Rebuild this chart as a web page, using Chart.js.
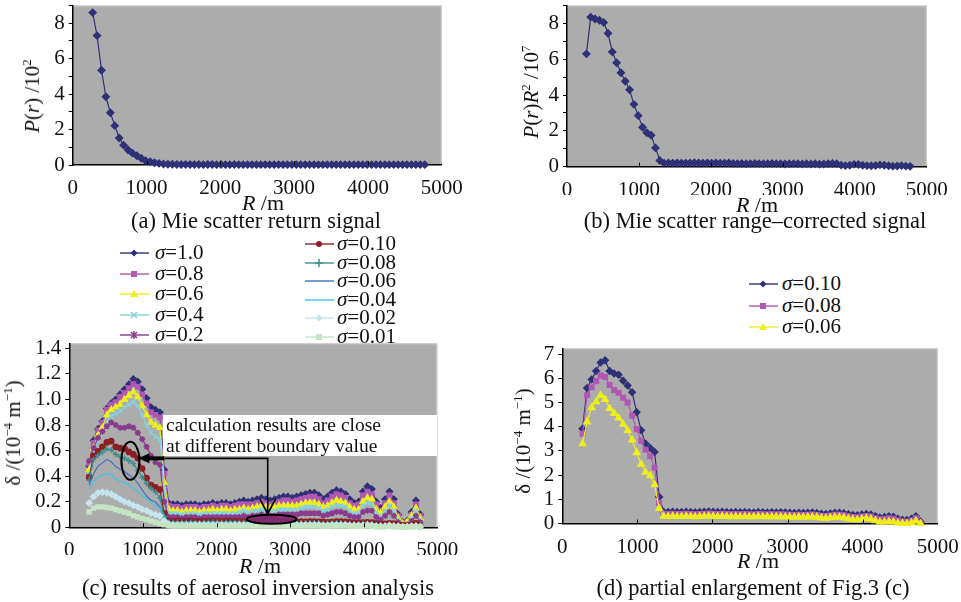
<!DOCTYPE html>
<html><head><meta charset="utf-8">
<script src="https://cdn.jsdelivr.net/npm/chart.js@4.4.1/dist/chart.umd.min.js"></script>
<style>
body{margin:0;width:961px;height:602px;background:#fff;position:relative;overflow:hidden;font-family:"Liberation Serif","Times New Roman",serif;color:#111;}
canvas{position:absolute;}
.t{position:absolute;font-size:22.5px;white-space:nowrap;line-height:24px;}
.ax{font-size:22px;}
.c{transform:translate(-50%,-50%);}
.yt{font-size:21px;transform:translate(-50%,-50%) rotate(-90deg);}
sup{font-size:13px;line-height:0;vertical-align:8px;}
.lg{position:absolute;height:20px;font-size:21px;white-space:nowrap;}
.box{position:absolute;background:#fff;font-size:19.5px;line-height:20.5px;padding:0 0 0 3px;box-sizing:border-box;white-space:nowrap;}
</style></head><body>
<canvas id="ca" width="470" height="195" style="left:0;top:0"></canvas>
<canvas id="cb" width="470" height="195" style="left:480px;top:0"></canvas>
<canvas id="cc" width="470" height="225" style="left:0;top:330px"></canvas>
<canvas id="cd" width="481" height="225" style="left:480px;top:330px"></canvas>

<div class="t yt" style="left:32px;top:96px"><i>P</i>(<i>r</i>) /10<sup>2</sup></div>
<div class="t yt" style="left:531px;top:92px"><i>P</i>(<i>r</i>)<i>R</i><sup>2</sup> /10<sup>7</sup></div>
<div class="t yt" style="left:13px;top:433px">δ /(10<sup>−4</sup> m<sup>−1</sup>)</div>
<div class="t yt" style="left:523px;top:441px">δ /(10<sup>−4</sup> m<sup>−1</sup>)</div>

<div class="t c ax" style="left:263px;top:203px"><i>R</i> /m</div>
<div class="t c ax" style="left:757px;top:205px"><i>R</i> /m</div>
<div class="t c ax" style="left:260px;top:566px"><i>R</i> /m</div>
<div class="t c ax" style="left:758px;top:561px"><i>R</i> /m</div>

<div class="t c" style="left:256px;top:221px">(a) Mie scatter return signal</div>
<div class="t c" style="left:755px;top:221px">(b) Mie scatter range–corrected signal</div>
<div class="t c" style="left:258px;top:588px">(c) results of aerosol inversion analysis</div>
<div class="t c" style="left:753px;top:588px">(d) partial enlargement of Fig.3 (c)</div>

<div class="box" style="left:163px;top:415px;width:274px;height:41px">calculation results are close<br>at different boundary value</div>

<script>
// ---------- data ----------
const R = [270,330,390,450,510,570,630,690,750,810,870,930,990,1050,1110,1170,1230,1290,
1350,1410,1470,1530,1590,1650,1710,1770,1830,1890,1950,2010,2070,2130,2190,2250,2310,2370,2430,2490,
2550,2610,2670,2730,2790,2850,2910,2970,3030,3090,3150,3210,3270,3330,3390,3450,3510,3570,3630,3690,
3750,3810,3870,3930,3990,4050,4110,4170,4230,4290,4350,4410,4470,4530,4590,4650,4710,4770];

const mieReturn = [8.6,7.3,5.35,3.85,2.95,2.22,1.52,1.12,0.85,0.67,
0.52,0.38,0.24,0.18,0.13,0.09,0.06,0.04,
0.04,0.03,0.03,0.03,0.03,0.03,0.03,0.02,0.03,0.03,
0.02,0.03,0.02,0.02,0.03,0.02,0.02,0.02,0.02,0.02,
0.02,0.02,0.02,0.02,0.02,0.02,0.02,0.02,0.02,0.02,
0.02,0.02,0.02,0.02,0.02,0.02,0.02,0.02,0.02,0.02,
0.02,0.02,0.02,0.02,0.02,0.02,0.02,0.02,0.02,0.02,
0.02,0.02,0.02,0.02,0.02,0.02,0.02,0.02];

const mieRangeCorrected = [6.3,8.35,8.25,8.18,8.05,7.45,6.41,5.8,5.25,4.77,
4.3,3.48,2.85,2.2,1.9,1.76,1.05,0.35,
0.2,0.21,0.2,0.21,0.2,0.2,0.21,0.22,0.21,0.2,
0.21,0.2,0.21,0.2,0.2,0.21,0.18,0.17,0.18,0.16,
0.17,0.18,0.17,0.16,0.17,0.18,0.17,0.16,0.15,0.16,
0.17,0.16,0.15,0.16,0.15,0.16,0.14,0.15,0.16,0.18,
0.17,0.09,0.06,0.08,0.13,0.12,0.08,0.06,0.05,0.07,
0.1,0.08,0.05,0.03,0.04,0.06,0.03,0.02];

const sigma1_0 = [0.48,0.68,0.77,0.83,0.93,0.97,1.0,1.04,1.08,1.12,
1.16,1.14,1.08,1.01,0.94,0.92,0.9,0.45,
0.19,0.18,0.18,0.17,0.18,0.18,0.18,0.17,0.18,0.18,
0.19,0.18,0.19,0.19,0.18,0.19,0.2,0.21,0.2,0.21,
0.22,0.23,0.22,0.21,0.22,0.23,0.24,0.24,0.23,0.24,
0.25,0.26,0.27,0.27,0.25,0.22,0.24,0.27,0.29,0.28,
0.26,0.22,0.19,0.2,0.28,0.32,0.3,0.2,0.15,0.22,
0.28,0.22,0.1,0.04,0.05,0.12,0.21,0.1];

const sigma0_8 = [0.5,0.66,0.76,0.82,0.92,0.96,0.98,1.02,1.05,1.09,
1.12,1.1,1.04,0.97,0.9,0.88,0.86,0.42,
0.17,0.16,0.16,0.15,0.16,0.16,0.16,0.15,0.16,0.16,
0.17,0.16,0.17,0.17,0.16,0.17,0.18,0.18,0.18,0.18,
0.19,0.2,0.19,0.18,0.19,0.2,0.21,0.21,0.2,0.21,
0.22,0.23,0.24,0.24,0.22,0.19,0.21,0.24,0.26,0.25,
0.23,0.19,0.17,0.18,0.25,0.28,0.26,0.18,0.13,0.19,
0.25,0.19,0.09,0.03,0.04,0.1,0.18,0.09];

const sigma0_6 = [0.45,0.62,0.72,0.78,0.88,0.92,0.94,0.96,1.0,1.03,
1.06,1.02,0.95,0.88,0.82,0.8,0.78,0.35,
0.14,0.13,0.13,0.12,0.13,0.13,0.13,0.12,0.13,0.13,
0.14,0.13,0.14,0.14,0.13,0.14,0.14,0.15,0.14,0.15,
0.16,0.17,0.16,0.15,0.16,0.17,0.17,0.17,0.17,0.17,
0.18,0.19,0.19,0.19,0.18,0.16,0.17,0.19,0.21,0.2,
0.19,0.16,0.14,0.14,0.2,0.23,0.22,0.14,0.11,0.16,
0.2,0.16,0.07,0.03,0.04,0.09,0.15,0.07];

const sigma0_4 = [0.42,0.58,0.68,0.74,0.83,0.87,0.89,0.91,0.94,0.96,
0.98,0.95,0.88,0.8,0.74,0.71,0.69,0.3,
0.11,0.11,0.11,0.1,0.11,0.11,0.11,0.1,0.11,0.11,
0.11,0.11,0.11,0.11,0.11,0.11,0.12,0.13,0.12,0.13,
0.13,0.14,0.13,0.13,0.13,0.14,0.14,0.14,0.14,0.14,
0.15,0.16,0.16,0.16,0.15,0.13,0.14,0.16,0.17,0.17,
0.16,0.13,0.11,0.12,0.17,0.19,0.18,0.12,0.09,0.13,
0.17,0.13,0.06,0.02,0.03,0.07,0.13,0.06];

const sigma0_2 = [0.52,0.62,0.7,0.75,0.79,0.82,0.8,0.78,0.78,0.79,
0.78,0.74,0.69,0.63,0.56,0.51,0.49,0.2,
0.08,0.08,0.08,0.07,0.08,0.08,0.08,0.07,0.08,0.08,
0.08,0.08,0.08,0.08,0.08,0.08,0.08,0.09,0.08,0.09,
0.09,0.1,0.09,0.09,0.09,0.1,0.1,0.1,0.1,0.1,
0.11,0.11,0.11,0.11,0.11,0.09,0.1,0.11,0.12,0.12,
0.11,0.09,0.08,0.08,0.12,0.13,0.13,0.08,0.06,0.09,
0.12,0.09,0.04,0.02,0.02,0.05,0.09,0.04];

// panel (d) values (shown x10 relative to panel c)
const sigma0_10 = [3.92,5.6,5.95,6.3,6.65,6.75,6.3,6.2,6.15,5.9,
5.7,5.42,4.6,3.85,3.3,3.12,2.95,1.1,
0.48,0.47,0.48,0.47,0.47,0.48,0.47,0.46,0.47,0.48,
0.5,0.48,0.47,0.48,0.47,0.46,0.47,0.46,0.47,0.46,
0.45,0.47,0.46,0.45,0.46,0.45,0.46,0.45,0.44,0.43,
0.44,0.43,0.44,0.45,0.43,0.4,0.39,0.41,0.44,0.44,
0.42,0.38,0.35,0.34,0.37,0.39,0.37,0.3,0.25,0.27,
0.3,0.28,0.2,0.15,0.14,0.2,0.3,0.08];

const sigma0_08 = [3.71,5.3,5.63,5.88,6.12,6.05,5.72,5.52,5.4,5.2,
5.0,4.45,3.9,3.42,3.05,2.78,2.3,0.85,
0.4,0.39,0.4,0.39,0.39,0.4,0.39,0.38,0.39,0.4,
0.41,0.4,0.39,0.4,0.39,0.38,0.39,0.38,0.39,0.38,
0.37,0.39,0.38,0.37,0.38,0.37,0.38,0.37,0.36,0.35,
0.36,0.35,0.36,0.37,0.35,0.32,0.31,0.33,0.36,0.36,
0.34,0.3,0.27,0.26,0.29,0.31,0.29,0.22,0.17,0.19,
0.22,0.2,0.12,0.08,0.07,0.12,0.22,0.04];

const sigma0_06 = [3.3,4.2,4.79,5.03,5.3,5.13,4.75,4.55,4.36,4.1,
3.85,3.45,2.93,2.45,2.12,1.98,1.6,0.62,
0.3,0.29,0.3,0.29,0.29,0.3,0.29,0.28,0.29,0.3,
0.31,0.3,0.29,0.3,0.29,0.28,0.29,0.28,0.29,0.28,
0.28,0.29,0.28,0.28,0.28,0.28,0.28,0.27,0.27,0.26,
0.27,0.26,0.27,0.27,0.26,0.23,0.22,0.24,0.26,0.26,
0.24,0.2,0.17,0.16,0.19,0.21,0.19,0.12,0.06,0.06,
0.08,0.06,0.02,0.01,0,0.03,0.1,0];

const sigma0_04 = [0.3,0.36,0.39,0.41,0.42,0.41,0.38,0.36,0.35,0.33,
0.31,0.28,0.25,0.22,0.2,0.17,0.15,0.08,
0.04,0.035,0.035,0.035,0.035,0.035,0.035,0.03,0.035,0.035,
0.035,0.035,0.035,0.035,0.03,0.035,0.035,0.03,0.035,0.035,
0.03,0.035,0.03,0.03,0.035,0.03,0.035,0.03,0.03,0.03,
0.03,0.03,0.035,0.03,0.03,0.025,0.03,0.03,0.035,0.03,
0.03,0.025,0.02,0.025,0.03,0.03,0.03,0.02,0.02,0.02,
0.025,0.02,0.015,0.01,0.01,0.015,0.02,0.01];

const sigma0_02 = [0.19,0.24,0.27,0.275,0.27,0.26,0.24,0.22,0.2,0.19,
0.17,0.16,0.14,0.13,0.11,0.1,0.09,0.05,
0.025,0.02,0.02,0.02,0.02,0.02,0.02,0.02,0.02,0.02,
0.02,0.02,0.02,0.02,0.02,0.02,0.02,0.02,0.02,0.02,
0.02,0.02,0.02,0.02,0.02,0.02,0.02,0.02,0.02,0.02,
0.02,0.02,0.02,0.02,0.02,0.015,0.015,0.02,0.02,0.02,
0.02,0.015,0.015,0.015,0.015,0.02,0.015,0.01,0.01,0.01,
0.015,0.01,0.01,0.005,0.005,0.01,0.01,0.005];

const sigma0_01 = [0.12,0.15,0.16,0.16,0.155,0.15,0.14,0.13,0.12,0.11,
0.09,0.08,0.07,0.06,0.05,0.04,0.03,0.02,
0.012,0.01,0.01,0.01,0.01,0.01,0.01,0.01,0.01,0.01,
0.01,0.01,0.01,0.01,0.01,0.01,0.01,0.01,0.01,0.01,
0.01,0.01,0.01,0.01,0.01,0.01,0.01,0.01,0.01,0.01,
0.01,0.01,0.01,0.01,0.01,0.008,0.008,0.01,0.01,0.01,
0.01,0.008,0.008,0.008,0.008,0.01,0.008,0.005,0.005,0.005,
0.008,0.005,0.005,0.003,0.003,0.005,0.005,0.003];

const xTicks = [0,1000,2000,3000,4000,5000];
const labelsC = ['1.0','0.8','0.6','0.4','0.2','0.10','0.08','0.06','0.04','0.02','0.01'];
const labelsD = ['0.10','0.08','0.06'];
const annoEllipseA = [830, 0.52];
const annoEllipseB = [2750, 0.063];

// ---------- styling ----------
const FONT = '"Liberation Serif","Times New Roman",serif';
const NAVY='#2f3176', MAG='#b058b4', YEL='#eeee1c', CYAN='#86d2de', PURP='#8a3a8c',
      DRED='#8b2024', TEAL='#3d8e8e', BLUE='#4571c0', SKY='#3ec4ee', LBLUE='#c4e5ef', LGRN='#c4e4c4';

const frame = {
  id:'frame',
  beforeDraw(chart){
    const {ctx, chartArea:a} = chart;
    ctx.save();
    ctx.fillStyle='#acacac';
    ctx.fillRect(a.left,a.top,a.right-a.left,a.bottom-a.top);
    ctx.strokeStyle='#d2d2d2'; ctx.lineWidth=1;
    ctx.beginPath(); ctx.moveTo(a.left,a.top+0.5); ctx.lineTo(a.right-0.5,a.top+0.5); ctx.lineTo(a.right-0.5,a.bottom); ctx.stroke();
    ctx.restore();
  },
  afterDatasetsDraw(chart){
    const {ctx, chartArea:a, scales:{x}} = chart;
    ctx.save(); ctx.strokeStyle='#000'; ctx.lineWidth=1;
    x.ticks.forEach(t=>{
      if(t.value<=x.min||t.value>=x.max) return;
      const px=Math.round(x.getPixelForValue(t.value))+0.5;
      ctx.beginPath(); ctx.moveTo(px,a.bottom); ctx.lineTo(px,a.bottom-4); ctx.stroke();
    });
    ctx.restore();
  }
};

function scalesFor(ymax, ystep, yW, xH, fmt){
  const tf = {family:FONT,size:21};
  return {
    x:{type:'linear',min:0,max:5000,bounds:'data',
       afterBuildTicks(s){ s.ticks = xTicks.map(v=>({value:v})); },
       ticks:{padding:3,color:'#111',font:tf,maxRotation:0,autoSkip:false,callback:v=>String(v)},
       grid:{display:false},
       border:{display:true,color:'#000',width:1.5},
       afterFit(s){ s.height=xH; s.paddingLeft=0; s.paddingRight=0; s.paddingTop=0; s.paddingBottom=0; }},
    y:{type:'linear',min:0,max:ymax,bounds:'data',
       ticks:{stepSize:ystep,padding:4,color:'#111',font:tf,autoSkip:false,includeBounds:false,callback:fmt},
       grid:{display:true,drawOnChartArea:false,drawTicks:true,tickLength:4,color:'#000',lineWidth:1},
       border:{display:true,color:'#000',width:1.5},
       afterFit(s){ s.width=yW; s.paddingTop=0; s.paddingBottom=0; s.paddingLeft=0; s.paddingRight=0; }}
  };
}

function pts(arr, k){ return R.map((r,i)=>({x:r, y: arr[i]*(k||1)})); }

function ds(label, arr, color, style, radius, k, idx, n){
  return {label, data:pts(arr,k), borderColor:color, backgroundColor:color,
    pointBackgroundColor:color, pointBorderColor:color, borderWidth:1.2,
    pointStyle: style || 'circle', pointRadius: style ? radius : 0, pointBorderWidth:1.5,
    tension:0, clip:5, order: n - idx};
}

function make(id, datasets, scales, pad, extraPlugins){
  return new Chart(document.getElementById(id), {
    type:'line',
    data:{datasets},
    options:{responsive:false, animation:false, devicePixelRatio:1,
      layout:{padding:pad},
      plugins:{legend:{display:false}, tooltip:{enabled:false}},
      scales},
    plugins:[frame].concat(extraPlugins||[])
  });
}

const evenOnly = v => (Math.round(v)%2===0 ? String(Math.round(v)) : '');
const oneDec = v => (Math.abs(v)<1e-9 ? '0' : v.toFixed(1));
const intFmt = v => String(Math.round(v));

// (a)
make('ca', [ds('P(r)', mieReturn, NAVY, 'rectRot', 3.4, 1, 0, 1)],
  scalesFor(9, 1, 72.7, 30, evenOnly), {left:0, top:5, right:28.3, bottom:0});
// (b)
make('cb', [ds('P(r)R2', mieRangeCorrected, NAVY, 'rectRot', 3.4, 1, 0, 1)],
  scalesFor(9, 1, 87, 28.3, evenOnly), {left:0, top:3.3, right:23.3, bottom:0});

// (c)
const cSeries = [
  [sigma1_0, NAVY, 'rectRot', 3, 1],
  [sigma0_8, MAG, 'rect', 3, 1],
  [sigma0_6, YEL, 'triangle', 3.2, 1],
  [sigma0_4, CYAN, 'crossRot', 2.8, 1],
  [sigma0_2, PURP, 'star', 3, 1],
  [sigma0_10, DRED, 'circle', 2.6, 0.1],
  [sigma0_08, TEAL, 'cross', 2.8, 0.1],
  [sigma0_06, BLUE, null, 0, 0.1],
  [sigma0_04, SKY, null, 0, 1],
  [sigma0_02, LBLUE, 'rectRot', 2.8, 1],
  [sigma0_01, LGRN, 'rect', 2.8, 1]
];
const annot = {
  id:'annot',
  afterDatasetsDraw(chart){
    const {ctx, scales:{x,y}} = chart;
    const ax=x.getPixelForValue(annoEllipseA[0]), ay=y.getPixelForValue(annoEllipseA[1]);
    const bx=x.getPixelForValue(annoEllipseB[0]), by=y.getPixelForValue(annoEllipseB[1]);
    const arx=9, ary=19, brx=25, bry=4.5;
    ctx.save();
    ctx.fillStyle='rgba(128,40,112,0.9)';
    ctx.beginPath(); ctx.ellipse(bx,by,brx,bry,0,0,Math.PI*2); ctx.fill();
    ctx.strokeStyle='#000'; ctx.lineWidth=2;
    ctx.stroke();
    ctx.beginPath(); ctx.ellipse(ax,ay,arx,ary,0,0,Math.PI*2); ctx.stroke();
    const hy = ay-2.5, tip = ax+arx-1;
    ctx.fillStyle='#000';
    ctx.beginPath(); ctx.moveTo(tip,hy); ctx.lineTo(tip+11,hy-5); ctx.lineTo(tip+11,hy+5); ctx.closePath(); ctx.fill();
    ctx.lineWidth=4; ctx.beginPath(); ctx.moveTo(tip+10,hy); ctx.lineTo(tip+26,hy); ctx.stroke();
    ctx.lineWidth=1.6;
    ctx.beginPath(); ctx.moveTo(tip+26,hy); ctx.lineTo(bx-4,hy); ctx.lineTo(bx-4,by-bry-1); ctx.stroke();
    ctx.beginPath(); ctx.moveTo(bx-12,by-bry-16); ctx.lineTo(bx-4,by-bry-1); ctx.lineTo(bx+4,by-bry-16); ctx.stroke();
    ctx.restore();
  }
};
make('cc', cSeries.map((s,i)=>ds('σ='+labelsC[i], s[0], s[1], s[2], s[3], s[4], i, cSeries.length)),
  scalesFor(1.44, 0.2, 69.3, 27.7, oneDec), {left:0, top:13.3, right:32.7, bottom:0}, [annot]);

// (d)
const dSeries = [[sigma0_10, NAVY, 'rectRot', 3.2], [sigma0_08, MAG, 'rect', 3.2], [sigma0_06, YEL, 'triangle', 3.6]];
make('cd', dSeries.map((s,i)=>ds('σ='+labelsD[i], s[0], s[1], s[2], s[3], 1, i, dSeries.length)),
  scalesFor(7.24, 1, 82.3, 31.5, intFmt), {left:0, top:18.3, right:23.3, bottom:0});

// ---------- HTML legends ----------
function marker(style, c){
  switch(style){
    case 'rectRot': return `<polygon points="14,2.5 17.5,6 14,9.5 10.5,6" fill="${c}"/>`;
    case 'rect': return `<rect x="11" y="3" width="6" height="6" fill="${c}"/>`;
    case 'triangle': return `<polygon points="14,2 18,9 10,9" fill="${c}"/>`;
    case 'crossRot': return `<path d="M11,3L17,9M17,3L11,9" stroke="${c}" stroke-width="1.5"/>`;
    case 'star': return `<path d="M11,3L17,9M17,3L11,9M14,2V10" stroke="${c}" stroke-width="1.5"/>`;
    case 'circle': return `<circle cx="14" cy="6" r="3" fill="${c}"/>`;
    case 'cross': return `<path d="M14,2V10M10,6H18" stroke="${c}" stroke-width="1.5"/>`;
    default: return '';
  }
}
function legend(list, labels, iconX, textX, ys){
  list.forEach((s,k)=>{
    const d=document.createElement('div'); d.className='lg';
    d.style.left=iconX+'px'; d.style.top=(ys[k]-10)+'px';
    d.innerHTML=`<svg width="29" height="12" style="position:absolute;left:0;top:5px"><line x1="0" y1="6" x2="29" y2="6" stroke="${s[1]}" stroke-width="1.4"/>${marker(s[2],s[1])}</svg>`+
      `<span style="position:absolute;left:${textX-iconX}px;top:-2px;line-height:24px"><i>σ</i>=${labels[k]}</span>`;
    document.body.appendChild(d);
  });
}
legend(cSeries.slice(0,5), labelsC.slice(0,5), 120, 155, [252,272.5,293,313.5,334]);
legend(cSeries.slice(5), labelsC.slice(5), 305, 337, [243,261.5,280,298.5,317,335.5]);
legend(dSeries, labelsD, 749, 782, [283.3,304.5,325.7]);
</script>
</body></html>
